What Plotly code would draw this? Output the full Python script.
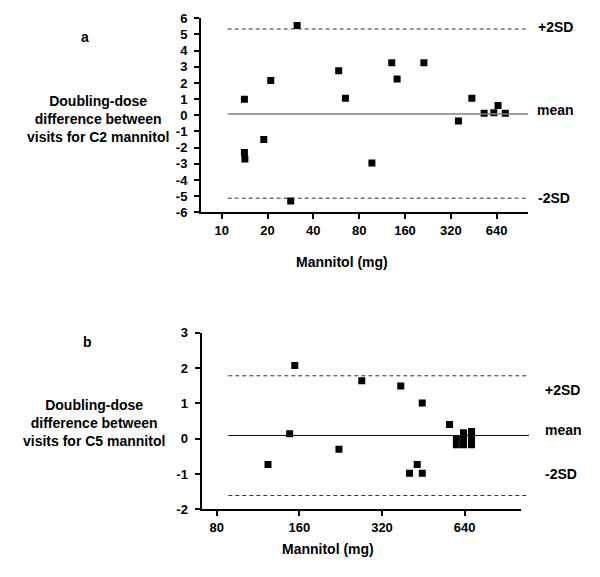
import math
import plotly.graph_objects as go

W, H = 600, 577

# ---------------- data ----------------
# Panel a (C2 mannitol)
dose_a = [14.1, 14.1, 14.2, 18.9, 21.0, 28.4, 31.3, 58.7, 65, 97, 131, 142, 213, 359, 440, 530, 613, 654, 730]
diff_a = [1.0, -2.3, -2.7, -1.5, 2.15, -5.3, 5.55, 2.75, 1.05, -2.95, 3.25, 2.25, 3.25, -0.35, 1.05, 0.12, 0.15, 0.6, 0.12]
mean_a, upper_a, lower_a = 0.08, 5.34, -5.13

# Panel b (C5 mannitol)
dose_b = [123, 147.5, 154, 223, 270, 374.5, 448.5, 403, 430, 448.5, 564, 597, 597, 634, 634, 634, 678, 678, 678]
diff_b = [-0.73, 0.14, 2.07, -0.30, 1.64, 1.49, 1.01, -0.98, -0.73, -0.98, 0.40, 0.0, -0.17, 0.17, 0.0, -0.17, 0.2, 0.0, -0.17]
mean_b, upper_b, lower_b = 0.09, 1.78, -1.61

xticks_a = [10, 20, 40, 80, 160, 320, 640]
xticks_b = [80, 160, 320, 640]
yticks_a = list(range(-6, 7))
yticks_b = list(range(-2, 4))
x_max = 1024  # right end of both dose axes

FONT = "Liberation Sans, Arial, sans-serif"


def px(x):
    return x / W


def py(y):
    return 1 - y / H


dom_y_a = [py(212.3), py(18.3)]
dom_y_b = [py(509.3), py(332.7)]

fig = go.Figure()

marker = dict(symbol="square", size=7, color="black", line=dict(width=0))
fig.add_trace(go.Scatter(x=dose_a, y=diff_a, mode="markers", marker=marker,
                         xaxis="x", yaxis="y", showlegend=False, hoverinfo="skip"))
fig.add_trace(go.Scatter(x=dose_b, y=diff_b, mode="markers", marker=marker,
                         xaxis="x2", yaxis="y2", showlegend=False, hoverinfo="skip"))

shapes = []
# reference lines
shapes.append(dict(type="line", xref="paper", yref="y", x0=px(227.7), x1=px(528),
                   y0=mean_a, y1=mean_a, line=dict(color="#7f7f7f", width=1.5)))
for v in (upper_a, lower_a):
    shapes.append(dict(type="line", xref="paper", yref="y", x0=px(227.7), x1=px(528),
                       y0=v, y1=v, line=dict(color="#333333", width=1, dash="4px,3px")))
shapes.append(dict(type="line", xref="paper", yref="y2", x0=px(228.3), x1=px(529),
                   y0=mean_b, y1=mean_b, line=dict(color="#111111", width=1)))
for v in (upper_b, lower_b):
    shapes.append(dict(type="line", xref="paper", yref="y2", x0=px(228.3), x1=px(529),
                       y0=v, y1=v, line=dict(color="#333333", width=1, dash="4px,3px")))

tickfont = dict(family=FONT, size=13, color="black", weight="bold")
common = dict(showline=True, linecolor="black", linewidth=2,
              ticks="outside", ticklen=5, tickwidth=2, tickcolor="black",
              showgrid=False, zeroline=False, tickfont=tickfont, automargin=False)

# panel a
dec_per_px_a = (math.log10(x_max) - math.log10(xticks_a[0])) / (527.7 - 221.7)
xa_min = math.log10(xticks_a[0]) - (221.7 - 201) * dec_per_px_a
xaxis_a = dict(type="log", domain=[px(201), px(527.7)], range=[xa_min, math.log10(x_max)],
               anchor="y", tickvals=xticks_a, ticktext=[str(t) for t in xticks_a],
               ticklabelstandoff=0, **common)
yaxis_a = dict(domain=dom_y_a, range=[-6, 6], anchor="x",
               tickvals=yticks_a, ticktext=[str(t) for t in yticks_a],
               ticklabelstandoff=4, **common)

# panel b
dec_per_px_b = (math.log10(x_max) - math.log10(xticks_b[0])) / (520.7 - 216.7)
xb_min = math.log10(xticks_b[0]) - (216.7 - 201.5) * dec_per_px_b
xaxis_b = dict(type="log", domain=[px(201.5), px(520.7)], range=[xb_min, math.log10(x_max)],
               anchor="y2", tickvals=xticks_b, ticktext=[str(t) for t in xticks_b],
               ticklabelstandoff=0, **common)
yaxis_b = dict(domain=dom_y_b, range=[-2, 3], anchor="x2",
               tickvals=yticks_b, ticktext=[str(t) for t in yticks_b],
               ticklabelstandoff=4, **common)

ann_font = dict(family=FONT, size=14, color="black", weight="bold")
annotations = []


def ann(text, x, y, xanchor="center", yanchor="middle", align="center"):
    annotations.append(dict(text=text, x=px(x), y=py(y), xref="paper", yref="paper",
                            xanchor=xanchor, yanchor=yanchor, align=align,
                            showarrow=False, font=ann_font))


ann("a", 85, 37)
ann("b", 87.5, 342)
ann("Doubling-dose<br>difference between<br>visits for C2 mannitol", 98, 119)
ann("Doubling-dose<br>difference between<br>visits for C5 mannitol", 94, 422.7)
ann("Mannitol (mg)", 341.7, 261.7)
ann("Mannitol (mg)", 328.3, 549.3)
ann("+2SD", 536, 27, xanchor="left")
ann("mean", 535, 110, xanchor="left")
ann("-2SD", 536, 198, xanchor="left")
ann("+2SD", 543, 390, xanchor="left")
ann("mean", 543, 429.5, xanchor="left")
ann("-2SD", 543, 474.3, xanchor="left")

fig.update_layout(
    template="none",
    width=W, height=H,
    autosize=False,
    margin=dict(l=0, r=0, t=0, b=0, pad=0, autoexpand=False),
    paper_bgcolor="white", plot_bgcolor="rgba(0,0,0,0)",
    font=dict(family=FONT, color="black"),
    xaxis=xaxis_a, yaxis=yaxis_a,
    xaxis2=xaxis_b, yaxis2=yaxis_b,
    shapes=shapes,
    annotations=annotations,
    showlegend=False,
    hovermode=False,
)

fig.write_html(
    "out.html",
    config={"displayModeBar": False, "staticPlot": True},
    post_script="document.body.style.margin='0';document.body.style.overflow='hidden';",
)
